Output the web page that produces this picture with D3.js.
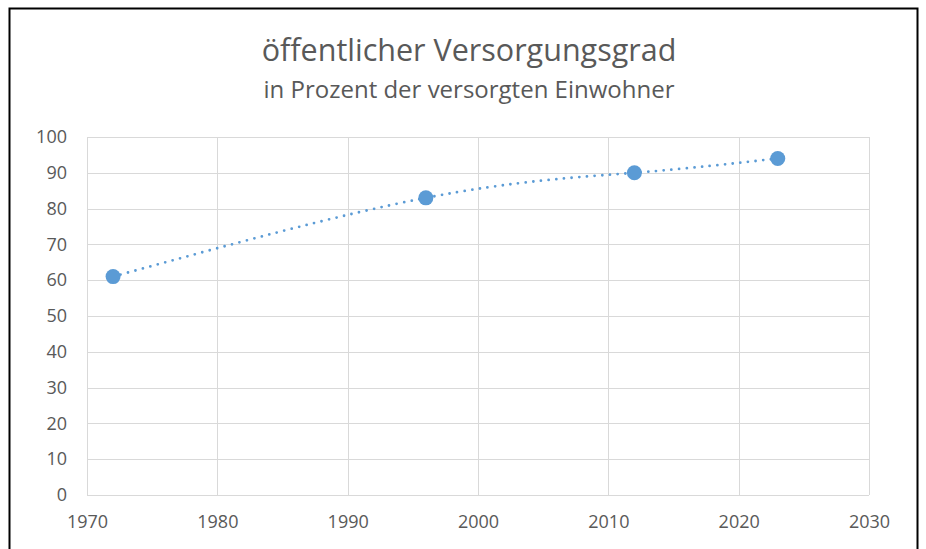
<!DOCTYPE html>
<html>
<head>
	<meta charset="utf-8">
	<title>öffentlicher Versorgungsgrad</title>
	<script src="https://d3js.org/d3.v7.min.js"></script>
	<style>
		body { margin: 0; background: #fff; }
		text { font-family: 'Open Sans', sans-serif; fill: #595959; }
	</style>
</head>
<body>
	<div class="chart"></div>

	<script type="text/javascript">
		// Daten
		const years = [1972, 1996, 2012, 2023]
		const values = [61, 83, 90, 94]
		const xTicks = [1970, 1980, 1990, 2000, 2010, 2020, 2030]
		const yTicks = [0, 10, 20, 30, 40, 50, 60, 70, 80, 90, 100]
		const title = 'öffentlicher Versorgungsgrad'
		const subtitle = 'in Prozent der versorgten Einwohner'

		const width = 926
		const height = 549
		const margin = { top: 137, right: 57, bottom: 54, left: 87 }

		const svg = d3.select('.chart').append('svg')
			.attr('width', width)
			.attr('height', height)

		// Rahmen
		svg.append('rect')
			.attr('x', 9.5).attr('y', 8.5)
			.attr('width', 908).attr('height', 560)
			.attr('fill', '#fff')
			.attr('stroke', '#000')
			.attr('stroke-width', 2)

		const xScale = d3.scaleLinear()
			.domain([1970, 2030])
			.range([margin.left, width - margin.right])

		const yScale = d3.scaleLinear()
			.domain([0, 100])
			.range([height - margin.bottom, margin.top])

		// Gitterlinien
		const grid = svg.append('g').attr('stroke', '#d9d9d9').attr('stroke-width', 1)
		grid.selectAll('.hl').data(yTicks).join('line')
			.attr('x1', xScale(1970)).attr('x2', xScale(2030))
			.attr('y1', d => Math.round(yScale(d)) + 0.5)
			.attr('y2', d => Math.round(yScale(d)) + 0.5)
		grid.selectAll('.vl').data(xTicks).join('line')
			.attr('y1', yScale(0)).attr('y2', yScale(100))
			.attr('x1', d => Math.round(xScale(d)) + 0.5)
			.attr('x2', d => Math.round(xScale(d)) + 0.5)

		// Achsen
		const xAxis = d3.axisBottom(xScale).tickValues(xTicks).tickFormat(d3.format('d')).tickSize(0).tickPadding(20)
		const yAxis = d3.axisLeft(yScale).tickValues(yTicks).tickSize(0).tickPadding(20)

		svg.append('g')
			.attr('transform', `translate(0, ${yScale(0)})`)
			.call(xAxis)
			.call(g => g.select('.domain').remove())
			.selectAll('text').attr('font-size', 18).attr('fill', '#595959')
			.style('font-family', "'Open Sans', sans-serif")

		svg.append('g')
			.attr('transform', `translate(${xScale(1970)}, 0)`)
			.call(yAxis)
			.call(g => g.select('.domain').remove())
			.selectAll('text').attr('font-size', 18).attr('fill', '#595959')
			.style('font-family', "'Open Sans', sans-serif")

		// Trendlinie
		const points = years.map((y, i) => ({ year: y, value: values[i] }))
		const line = d3.line()
			.x(d => xScale(d.year))
			.y(d => yScale(d.value))
			.curve(d3.curveNatural)

		svg.append('path')
			.attr('d', line(points))
			.attr('fill', 'none')
			.attr('stroke', '#5b9bd5')
			.attr('stroke-width', 2.8)
			.attr('stroke-linecap', 'round')
			.attr('stroke-dasharray', '0 7.7')

		// Punkte
		svg.selectAll('.dot').data(points).join('circle')
			.attr('cx', d => xScale(d.year))
			.attr('cy', d => yScale(d.value))
			.attr('r', 7.5)
			.attr('fill', '#5b9bd5')

		// Titel
		svg.append('text')
			.attr('x', 469).attr('y', 61)
			.attr('text-anchor', 'middle')
			.attr('font-size', 30.5)
			.text(title)

		svg.append('text')
			.attr('x', 469).attr('y', 98)
			.attr('text-anchor', 'middle')
			.attr('font-size', 24)
			.text(subtitle)
	</script>
</body>
</html>
